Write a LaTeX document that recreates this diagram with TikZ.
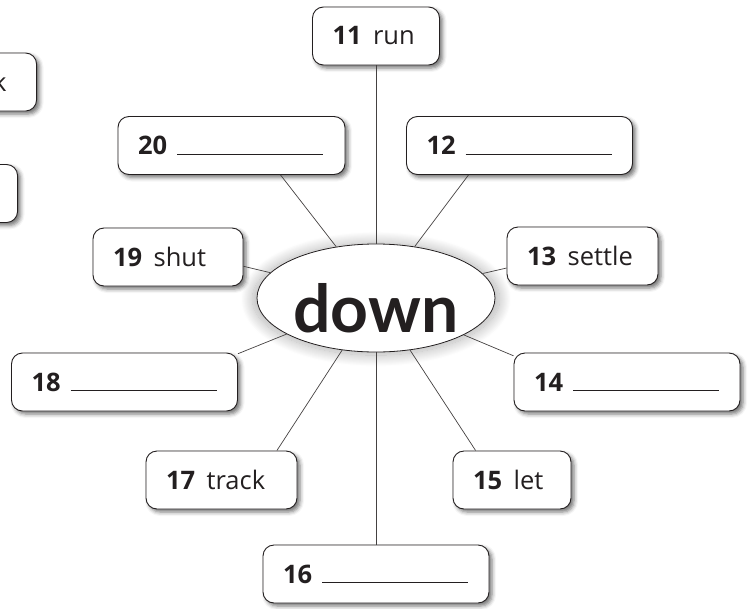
\documentclass[tikz,border=0pt]{standalone}
\usepackage{fontspec}
\setmainfont{Open Sans}
\newfontfamily\hubfont{Lato}
\definecolor{inkblack}{HTML}{231F20}
\usetikzlibrary{shapes.geometric, shadows.blur, positioning}

\tikzset{
  wordbox/.style={draw=inkblack, line width=0.9pt, rounded corners=11pt, fill=white,
    minimum height=58pt, inner xsep=20pt, inner ysep=0pt, text width=#1, align=left,
    text=inkblack, font=\fontsize{25.5}{29}\selectfont,
    blur shadow={shadow xshift=3pt, shadow yshift=-3pt, shadow blur radius=4pt, shadow opacity=55}},
  hub/.style={ellipse, draw=inkblack, line width=0.8pt, fill=white,
    minimum width=238pt, minimum height=108pt, inner xsep=-12pt, inner ysep=0pt,
    text height=68pt, text depth=0pt, text=inkblack,
    font=\hubfont\bfseries\fontsize{66}{70}\selectfont,
    blur shadow={shadow xshift=0pt, shadow yshift=-1pt, shadow scale=1.04,
      shadow blur radius=11pt, shadow blur steps=24, shadow opacity=30}},
  spoke/.style={draw=inkblack!85, line width=0.7pt}
}
\newcommand{\blank}[1]{\textbf{#1}\hspace{10pt}\rule{146pt}{0.8pt}}
\newcommand{\word}[2]{\textbf{#1}\hspace{0.45em}#2}

\begin{document}
\begin{tikzpicture}[x=1pt, y=-1pt]
  \useasboundingbox (0,0) rectangle (755,608);
  \clip (0,0) rectangle (755,608);
  % Centre word
  \node[hub] (down) at (376,298) {down};
  % Boxes, clockwise from the top
  \node[wordbox=87pt]  (b11) at (376,36)      {\word{11}{run}};
  \node[wordbox=186pt] (b12) at (519.5,145.5) {\blank{12}};
  \node[wordbox=111pt] (b13) at (582.5,256)   {\word{13}{settle}};
  \node[wordbox=186pt] (b14) at (627,382)     {\blank{14}};
  \node[wordbox=78pt]  (b15) at (512,480)     {\word{15}{let}};
  \node[wordbox=186pt] (b16) at (376,574)     {\blank{16}};
  \node[wordbox=111pt] (b17) at (221.5,480)   {\word{17}{track}};
  \node[wordbox=186pt] (b18) at (124.5,382)   {\blank{18}};
  \node[wordbox=110pt] (b19) at (168,257)     {\word{19}{shut}};
  \node[wordbox=187pt] (b20) at (231.5,145.5) {\blank{20}};
  % Boxes cut off at the left edge
  \node[wordbox=100pt, align=right, inner xsep=30pt, anchor=east] (b10) at (37,82) {k};
  \node[wordbox=100pt, anchor=east] (b09) at (18,193.5) {};
  % Spokes
  \draw[spoke] (down) -- (b11);
  \draw[spoke] (down) -- (b12.-150);
  \draw[spoke] (down) -- (b13.-171);
  \draw[spoke] (down) -- (b14.167);
  \draw[spoke] (down) -- (b15.141);
  \draw[spoke] (down) -- (b16);
  \draw[spoke] (down) -- (b17.28);
  \draw[spoke] (down) -- (b18.14);
  \draw[spoke] (down) -- (b19.-7);
  \draw[spoke] (down) -- (b20.-31);
\end{tikzpicture}
\end{document}
